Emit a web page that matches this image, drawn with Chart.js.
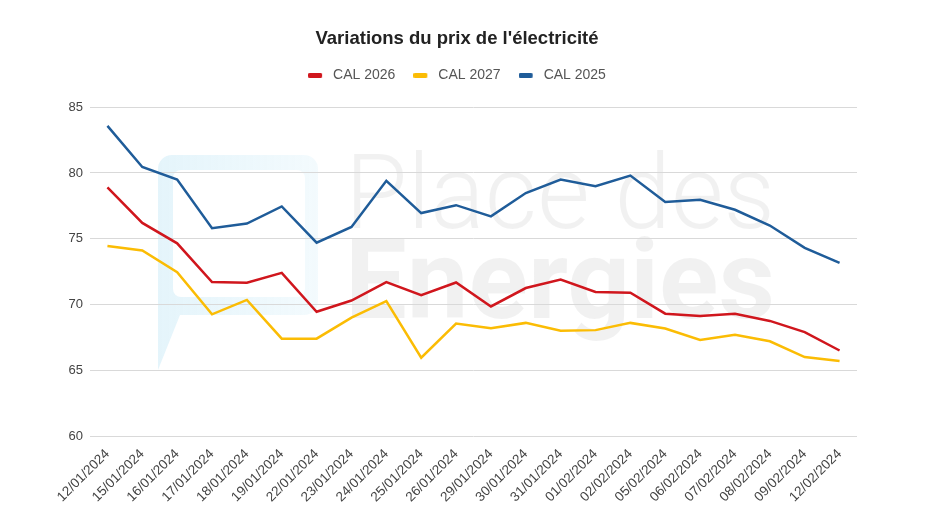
<!DOCTYPE html>
<html lang="fr">
<head>
<meta charset="utf-8">
<title>Variations du prix de l'électricité</title>
<script src="https://cdn.jsdelivr.net/npm/chart.js@4"></script>
<style>
  html, body { margin: 0; padding: 0; background: #fff; }
  #wrap { width: 936px; height: 526px; }
</style>
</head>
<body>
<div id="wrap"><canvas id="myChart"></canvas></div>
<script>
'use strict';

// ---- data ----
let dates = ['12/01/2024', '15/01/2024', '16/01/2024', '17/01/2024', '18/01/2024', '19/01/2024',
  '22/01/2024', '23/01/2024', '24/01/2024', '25/01/2024', '26/01/2024', '29/01/2024',
  '30/01/2024', '31/01/2024', '01/02/2024', '02/02/2024', '05/02/2024', '06/02/2024',
  '07/02/2024', '08/02/2024', '09/02/2024', '12/02/2024'];

let cal2026 = [78.9, 76.2, 74.65, 71.7, 71.65, 72.4, 69.45, 70.3, 71.7, 70.7, 71.67, 69.85,
  71.25, 71.9, 70.95, 70.9, 69.3, 69.13, 69.3, 68.75, 67.9, 66.5];
let cal2027 = [74.45, 74.1, 72.45, 69.25, 70.35, 67.4, 67.4, 69.0, 70.25, 65.95, 68.55, 68.2,
  68.6, 68.0, 68.05, 68.6, 68.17, 67.3, 67.7, 67.2, 66.0, 65.7];
let cal2025 = [83.58, 80.45, 79.5, 75.8, 76.15, 77.45, 74.7, 75.9, 79.4, 76.95, 77.55, 76.7,
  78.47, 79.5, 79.0, 79.8, 77.8, 77.96, 77.2, 76.0, 74.3, 73.16];

let yTicks = [60, 65, 70, 75, 80, 85];

let colRed = '#d0161d';
let colYellow = '#fbbc04';
let colBlue = '#1f5c99';

// legend marker: short thick bar, with a bit of empty space after it
function legendBar(color) {
  let cv = document.createElement('canvas');
  cv.width = 18;
  cv.height = 5;
  let c = cv.getContext('2d');
  c.fillStyle = color;
  c.beginPath();
  c.roundRect(0, 0, 14, 5, 1.5);
  c.fill();
  return cv;
}

// ---- watermark drawn behind the grid ----
let watermark = {
  id: 'watermark',
  beforeDraw(chart) {
    let c = chart.ctx;
    c.save();
    // logo: speech-bubble frame (outer shape with tail, inner hole)
    let grad = c.createLinearGradient(158, 0, 320, 0);
    grad.addColorStop(0, 'rgba(90, 190, 230, 0.16)');
    grad.addColorStop(1, 'rgba(90, 190, 230, 0.07)');
    c.fillStyle = grad;
    c.beginPath();
    c.roundRect(158, 155, 160, 160, [14, 14, 14, 0]);
    c.roundRect(173, 170, 132, 127, 8);
    c.fill('evenodd');
    c.beginPath();
    c.moveTo(158, 315);
    c.lineTo(180, 315);
    c.lineTo(158, 370);
    c.closePath();
    c.fill();
    // text
    c.fillStyle = 'rgba(0, 0, 0, 0.055)';
    c.textBaseline = 'alphabetic';
    c.font = '300 104px Roboto';
    c.fillText('Place des', 345, 228, 430);
    c.font = 'bold 112px Roboto';
    c.fillText('Energies', 345, 318, 430);
    c.restore();
  }
};

// ---- fixed legend height so the plot starts where the reference does ----
let legendHeight = {
  id: 'legendHeight',
  beforeInit(chart) {
    let fit = chart.legend.fit;
    chart.legend.fit = function () {
      fit.bind(chart.legend)();
      this.height = 57;
    };
  }
};

// ---- chart ----
let ctx = document.getElementById('myChart');

let myChartObj = {
  type: 'line',
  data: {
    labels: dates,
    datasets: [{
      label: 'CAL 2026',
      data: cal2026,
      borderColor: colRed,
      backgroundColor: colRed,
      pointStyle: legendBar(colRed)
    },
    {
      label: 'CAL 2027',
      data: cal2027,
      borderColor: colYellow,
      backgroundColor: colYellow,
      pointStyle: legendBar(colYellow)
    },
    {
      label: 'CAL 2025',
      data: cal2025,
      borderColor: colBlue,
      backgroundColor: colBlue,
      pointStyle: legendBar(colBlue)
    }]
  },
  options: {
    responsive: true,
    maintainAspectRatio: false,
    animation: false,
    elements: {
      line: { borderWidth: 2.5, tension: 0 },
      point: { radius: 0, hoverRadius: 0 }
    },
    layout: { padding: { left: 0, right: 22, top: 0, bottom: 0 } },
    plugins: {
      title: {
        display: true,
        text: "Variations du prix de l'électricité",
        color: '#222',
        font: { family: 'Liberation Sans', size: 18.5, weight: 'bold' },
        padding: { top: 28, bottom: 0 }
      },
      legend: {
        position: 'top',
        labels: {
          color: '#555',
          font: { family: 'Liberation Sans', size: 14 },
          usePointStyle: true,
          pointStyleWidth: 18,
          boxHeight: 5,
          padding: 18
        }
      },
      tooltip: { enabled: false }
    },
    scales: {
      x: {
        offset: true,
        grid: { display: false },
        border: { display: false },
        ticks: {
          color: '#444',
          font: { family: 'Liberation Sans', size: 13.5 },
          minRotation: 45,
          maxRotation: 45,
          autoSkip: false,
          padding: 2
        },
        afterFit(scale) { scale.height = 90; }
      },
      y: {
        min: 60,
        max: 85,
        afterBuildTicks(scale) { scale.ticks = yTicks.map(v => ({ value: v })); },
        grid: { color: '#d9d9d9', drawTicks: false },
        border: { display: false },
        ticks: {
          color: '#444',
          font: { family: 'Liberation Sans', size: 13 },
          padding: 7
        },
        afterFit(scale) { scale.width = 90; }
      },
      // empty right-hand axis, only reserves the blank margin on the right
      yRight: {
        position: 'right',
        min: 60,
        max: 85,
        grid: { display: false },
        border: { display: false },
        ticks: { display: false },
        afterFit(scale) { scale.width = 57; }
      }
    }
  },
  plugins: [watermark, legendHeight]
};

new Chart(ctx, myChartObj);
</script>
</body>
</html>
